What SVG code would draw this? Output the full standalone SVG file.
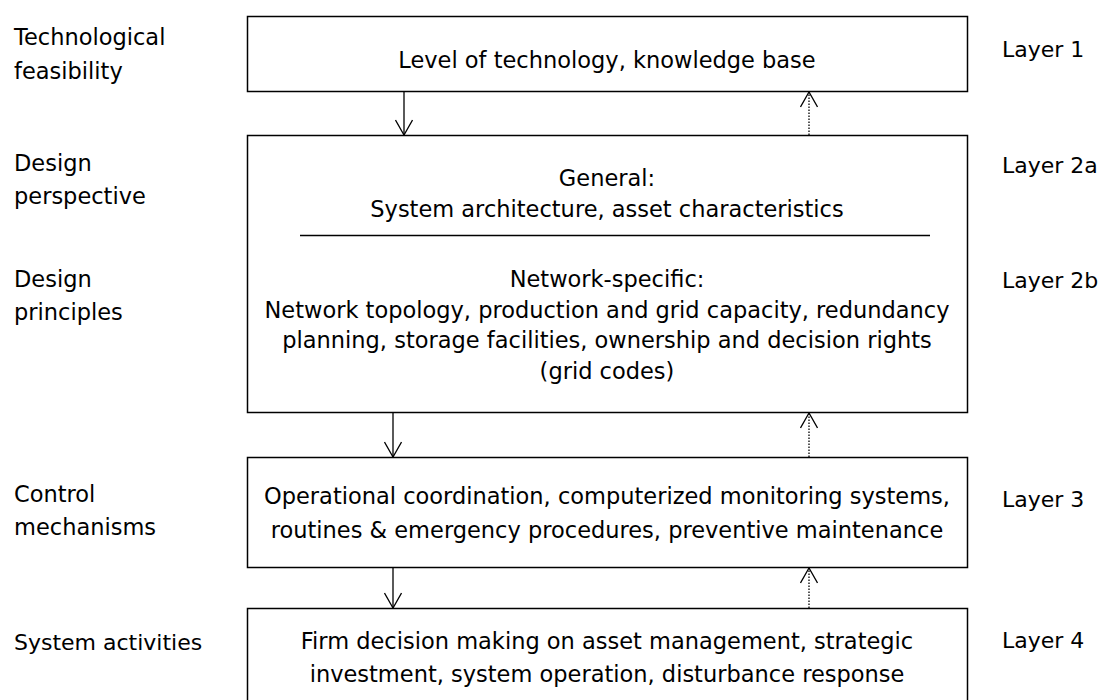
<svg xmlns="http://www.w3.org/2000/svg" width="1099" height="700" viewBox="0 0 1099 700">
<style>
text{font-family:"DejaVu Sans","Liberation Sans",sans-serif;font-size:22.5px;fill:#000}
.c{text-anchor:middle}
.r{font-size:22px}
.box{fill:#fff;stroke:#000;stroke-width:1.5}
.ln{stroke:#000;stroke-width:1.3;fill:none}
.dot{stroke:#000;stroke-width:1.3;fill:none;stroke-dasharray:1.5 1.5}
</style>
<defs>
<marker id="ah" viewBox="0 0 17 18" refX="16" refY="9" markerWidth="17" markerHeight="18" markerUnits="userSpaceOnUse" orient="auto">
<path d="M1,0.5 L16,9 L1,17.5" fill="none" stroke="#000" stroke-width="1.3"/>
</marker>
</defs>
<rect width="1099" height="700" fill="#fff"/>
<g id="labels-left">
<text x="14" y="45">Technological</text>
<text x="14" y="79">feasibility</text>
<text x="14" y="171">Design</text>
<text x="14" y="204">perspective</text>
<text x="14" y="287">Design</text>
<text x="14" y="320">principles</text>
<text x="14" y="502">Control</text>
<text x="14" y="535">mechanisms</text>
<text x="14" y="650" class="r">System activities</text>
</g>
<g id="labels-right">
<text class="r" x="1002" y="57">Layer 1</text>
<text class="r" x="1002" y="173">Layer 2a</text>
<text class="r" x="1002" y="288">Layer 2b</text>
<text class="r" x="1002" y="507">Layer 3</text>
<text class="r" x="1002" y="648">Layer 4</text>
</g>
<g id="layer1">
<rect class="box" x="247.5" y="16.5" width="720" height="75"/>
<text class="c" x="607" y="68">Level of technology, knowledge base</text>
</g>
<g id="layer2">
<rect class="box" x="247.5" y="135.5" width="720" height="277"/>
<text class="c" x="607" y="186">General:</text>
<text class="c" x="607" y="217">System architecture, asset characteristics</text>
<line class="ln" x1="300" y1="235.5" x2="930" y2="235.5"/>
<text class="c" x="607" y="287">Network-specific:</text>
<text class="c" x="607" y="318">Network topology, production and grid capacity, redundancy</text>
<text class="c" x="607" y="348">planning, storage facilities, ownership and decision rights</text>
<text class="c" x="607" y="379">(grid codes)</text>
</g>
<g id="layer3">
<rect class="box" x="247.5" y="457.5" width="720" height="110"/>
<text class="c" x="607" y="504">Operational coordination, computerized monitoring systems,</text>
<text class="c" x="607" y="538">routines &amp; emergency procedures, preventive maintenance</text>
</g>
<g id="layer4">
<rect class="box" x="247.5" y="608.5" width="720" height="110"/>
<text class="c" x="607" y="649">Firm decision making on asset management, strategic</text>
<text class="c" x="607" y="682">investment, system operation, disturbance response</text>
</g>
<g id="connectors">
<line class="ln" x1="404" y1="92" x2="404" y2="135" marker-end="url(#ah)"/>
<line class="ln" x1="393" y1="413" x2="393" y2="457" marker-end="url(#ah)"/>
<line class="ln" x1="393" y1="568" x2="393" y2="608" marker-end="url(#ah)"/>
<line class="dot" x1="809" y1="135" x2="809" y2="92" marker-end="url(#ah)"/>
<line class="dot" x1="809" y1="457" x2="809" y2="413" marker-end="url(#ah)"/>
<line class="dot" x1="809" y1="608" x2="809" y2="568" marker-end="url(#ah)"/>
</g>
</svg>
